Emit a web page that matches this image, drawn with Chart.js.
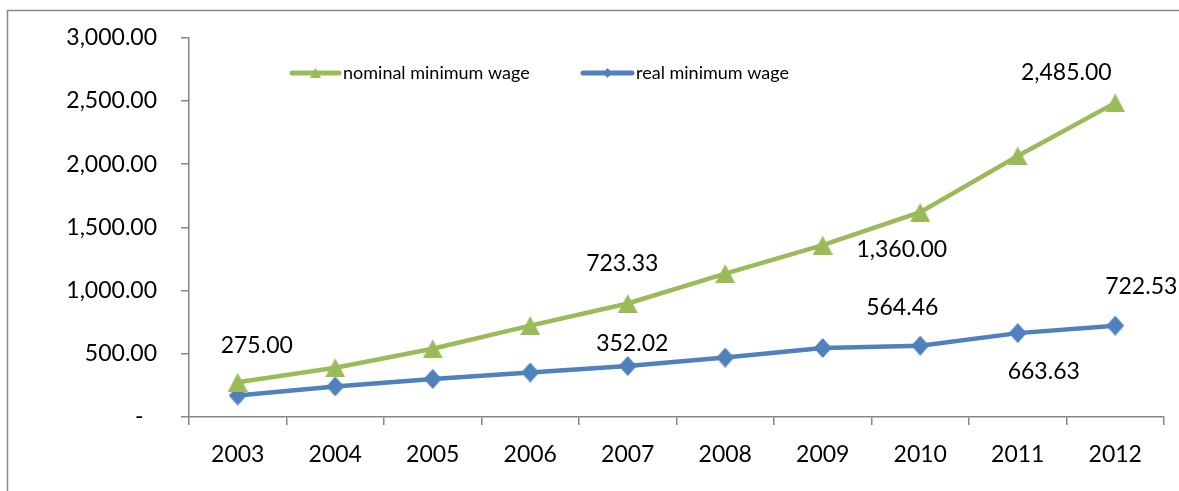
<!DOCTYPE html>
<html>
<head>
<meta charset="utf-8">
<script src="https://cdn.jsdelivr.net/npm/chart.js@4.4.1/dist/chart.umd.min.js"></script>
<style>
  html, body { margin: 0; padding: 0; background: #ffffff; }
  canvas { display: block; }
</style>
</head>
<body>
<canvas id="wages" width="1179" height="491"></canvas>
<script>
// Minimum wage series, 2003–2012
const years = ['2003', '2004', '2005', '2006', '2007', '2008', '2009', '2010', '2011', '2012'];
const nominalWage = [275.00, 390, 540, 723.33, 898, 1134, 1360.00, 1620, 2065, 2485.00];
const realWage = [170, 242, 301, 352.02, 403, 470, 546, 564.46, 663.63, 722.53];
const yTickValues = [0, 500, 1000, 1500, 2000, 2500, 3000];

// Which points carry a value label, and where the label sits relative to its point
const valueLabels = [
  { series: 0, index: 0, dx: 19, dy: -37 },
  { series: 0, index: 3, dx: 92, dy: -62 },
  { series: 0, index: 6, dx: 79, dy: 4 },
  { series: 0, index: 9, dx: -49, dy: -30 },
  { series: 1, index: 3, dx: 102, dy: -29 },
  { series: 1, index: 7, dx: -18, dy: -38 },
  { series: 1, index: 8, dx: 26, dy: 38 },
  { series: 1, index: 9, dx: 26, dy: -39 }
];

const FONT = 'Lato, "Open Sans", "DejaVu Sans", sans-serif';
const AXIS_GREY = '#868686';
const GREEN = '#9BBB59';
const BLUE = '#4F81BD';

function fmt(v) {
  return v.toLocaleString('en-US', { minimumFractionDigits: 2, maximumFractionDigits: 2 });
}

// Marker sprites centred on their bounding box
function marker(shape, w, h, color) {
  const c = document.createElement('canvas');
  c.width = w; c.height = h;
  const g = c.getContext('2d');
  g.fillStyle = color;
  g.beginPath();
  if (shape === 'triangle') {
    g.moveTo(w / 2, 0); g.lineTo(w, h); g.lineTo(0, h);
  } else {
    g.moveTo(w / 2, 0); g.lineTo(w, h / 2); g.lineTo(w / 2, h); g.lineTo(0, h / 2);
  }
  g.closePath();
  g.fill();
  return c;
}

const triMarker = marker('triangle', 20, 19, GREEN);
const diaMarker = marker('diamond', 18, 20, BLUE);
const triSmall = marker('triangle', 11, 10, GREEN);
const diaSmall = marker('diamond', 9, 10, BLUE);

const framePlugin = {
  id: 'frame',
  beforeDraw(chart) {
    const ctx = chart.ctx;
    ctx.save();
    ctx.fillStyle = '#ffffff';
    ctx.fillRect(0, 0, chart.width, chart.height);
    ctx.strokeStyle = '#8a8a8a';
    ctx.lineWidth = 1.5;
    ctx.strokeRect(7.5, 10.5, chart.width + 20, chart.height + 20);
    ctx.restore();
  }
};

const valueLabelPlugin = {
  id: 'valueLabels',
  afterDatasetsDraw(chart) {
    const ctx = chart.ctx;
    ctx.save();
    ctx.font = '23px ' + FONT;
    ctx.fillStyle = '#000000';
    ctx.textAlign = 'center';
    ctx.textBaseline = 'middle';
    valueLabels.forEach(l => {
      const pt = chart.getDatasetMeta(l.series).data[l.index];
      const v = chart.data.datasets[l.series].data[l.index];
      ctx.fillText(fmt(v), pt.x + l.dx, pt.y + l.dy);
    });
    ctx.restore();
  }
};

const legendPlugin = {
  id: 'lineLegend',
  afterDraw(chart) {
    const ctx = chart.ctx;
    const items = [
      { ds: 0, x0: 292, x1: 339, sprite: triSmall },
      { ds: 1, x0: 583, x1: 632, sprite: diaSmall }
    ];
    const y = 73;
    ctx.save();
    items.forEach(it => {
      const ds = chart.data.datasets[it.ds];
      ctx.strokeStyle = ds.borderColor;
      ctx.lineWidth = 5;
      ctx.lineCap = 'round';
      ctx.beginPath();
      ctx.moveTo(it.x0, y);
      ctx.lineTo(it.x1, y);
      ctx.stroke();
      const mx = (it.x0 + it.x1) / 2;
      ctx.drawImage(it.sprite, mx - it.sprite.width / 2, y - it.sprite.height / 2);
      ctx.fillStyle = '#000000';
      ctx.font = '18px ' + FONT;
      ctx.textAlign = 'left';
      ctx.textBaseline = 'middle';
      ctx.fillText(ds.label, it.x1 + 4, y);
    });
    ctx.restore();
  }
};

new Chart(document.getElementById('wages'), {
  type: 'line',
  data: {
    labels: years,
    datasets: [
      {
        label: 'nominal minimum wage',
        data: nominalWage,
        borderColor: GREEN,
        backgroundColor: GREEN,
        borderWidth: 4.5,
        pointStyle: triMarker,
        tension: 0
      },
      {
        label: 'real minimum wage',
        data: realWage,
        borderColor: BLUE,
        backgroundColor: BLUE,
        borderWidth: 4.5,
        pointStyle: diaMarker,
        tension: 0
      }
    ]
  },
  options: {
    responsive: false,
    animation: false,
    events: [],
    layout: { padding: { top: 34, right: 15, bottom: 0, left: 0 } },
    plugins: {
      legend: { display: false },
      tooltip: { enabled: false }
    },
    scales: {
      x: {
        type: 'category',
        offset: true,
        grid: {
          offset: true,
          drawOnChartArea: false,
          drawTicks: true,
          tickLength: 8,
          color: AXIS_GREY,
          lineWidth: 1.5
        },
        border: { display: true, color: AXIS_GREY, width: 1.5 },
        ticks: {
          color: '#000000',
          font: { family: FONT, size: 23 },
          padding: 16,
          maxRotation: 0,
          autoSkip: false
        },
        afterFit(scale) { scale.height = 74; }
      },
      y: {
        min: 0,
        max: 3000,
        grid: {
          drawOnChartArea: false,
          drawTicks: true,
          tickLength: 8,
          color: AXIS_GREY,
          lineWidth: 1.5
        },
        border: { display: true, color: AXIS_GREY, width: 1.5 },
        afterBuildTicks(scale) {
          scale.ticks = yTickValues.map(v => ({ value: v }));
        },
        ticks: {
          color: '#000000',
          font: { family: FONT, size: 23 },
          padding: 24,
          labelOffset: 0,
          callback: v => (v === 0 ? '-\u2007' : fmt(v))
        },
        afterFit(scale) { scale.width = 189; }
      }
    }
  },
  plugins: [framePlugin, valueLabelPlugin, legendPlugin]
});
</script>
</body>
</html>
